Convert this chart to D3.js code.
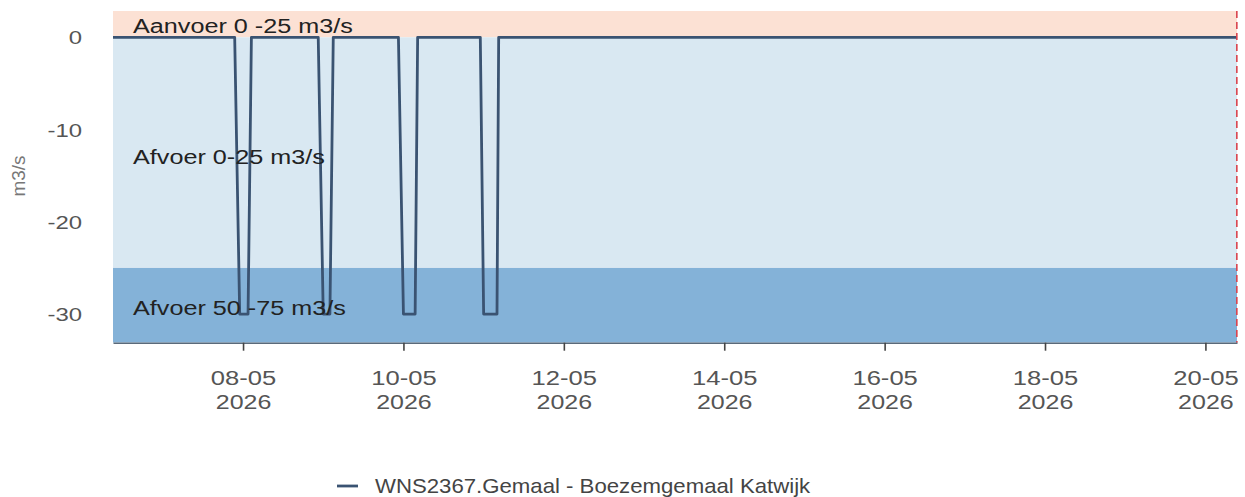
<!DOCTYPE html>
<html>
<head>
<meta charset="utf-8">
<script src="https://cdn.jsdelivr.net/npm/d3@7/dist/d3.min.js"></script>
<style>
  html, body { margin: 0; padding: 0; background: #ffffff; }
  svg { display: block; font-family: "Liberation Sans", Arial, sans-serif; }
</style>
</head>
<body>
<svg id="chart" width="1245" height="497"></svg>
<script>
// ---- data ----
const seriesName = "WNS2367.Gemaal - Boezemgemaal Katwijk";
const times = [
  "2026-05-06T09:05",
  "2026-05-07T21:30", "2026-05-07T23:00", "2026-05-08T01:30", "2026-05-08T02:30",
  "2026-05-08T22:30", "2026-05-09T00:00", "2026-05-09T02:00", "2026-05-09T03:00",
  "2026-05-09T22:30", "2026-05-10T00:00", "2026-05-10T03:30", "2026-05-10T04:15",
  "2026-05-10T23:00", "2026-05-11T00:00", "2026-05-11T04:00", "2026-05-11T04:30",
  "2026-05-20T09:20"
];
const values = [
  0,
  0, -30, -30, 0,
  0, -30, -30, 0,
  0, -30, -30, 0,
  0, -30, -30, 0,
  0
];
const bandNames = ["Aanvoer 0 -25 m3/s", "Afvoer 0-25 m3/s", "Afvoer 50 -75 m3/s"];
const bandFrom = [0, -25, -40];
const bandTo = [25, 0, -25];
const yTicks = [0, -10, -20, -30];
const xTickDates = ["2026-05-08", "2026-05-10", "2026-05-12", "2026-05-14", "2026-05-16", "2026-05-18", "2026-05-20"];
const xDomain = ["2026-05-06T09:05", "2026-05-20T09:27"];
const yDomain = [-33.1, 2.85];
const nowTime = "2026-05-20T09:24";
const yLabel = "m3/s";

// ---- layout ----
const parseT = d3.timeParse("%Y-%m-%dT%H:%M");
const parseD = d3.timeParse("%Y-%m-%d");
const mLeft = 113, mRight = 1237, mTop = 11, mBottom = 342.7;
const labelBaselines = [33, 163.5, 315];

const svg = d3.select("#chart");
const x = d3.scaleTime().domain(xDomain.map(parseT)).range([mLeft, mRight]);
const y = d3.scaleLinear().domain(yDomain).range([mBottom, mTop]);

// helper: text with horizontal stretch, placed at (px,py)
function stretchedText(parent, px, py, str, size, sx, anchor, fill) {
  const g = parent.append("g").attr("transform", `translate(${px},${py}) scale(${sx},1)`);
  return g.append("text").attr("x", 0).attr("y", 0)
    .attr("font-size", size).attr("text-anchor", anchor || "start")
    .attr("fill", fill).text(str);
}

svg.append("defs").append("clipPath").attr("id", "plotclip")
  .append("rect").attr("x", mLeft).attr("y", mTop).attr("width", mRight - mLeft).attr("height", mBottom - mTop);

const bandColors = ["#fce1d4", "#d9e8f2", "#84b2d8"];
const plot = svg.append("g").attr("clip-path", "url(#plotclip)");
plot.selectAll("rect.band").data(bandNames).join("rect")
  .attr("class", "band")
  .attr("x", mLeft).attr("width", mRight - mLeft)
  .attr("y", (d, i) => y(Math.min(bandTo[i], yDomain[1])))
  .attr("height", (d, i) => y(Math.max(bandFrom[i], yDomain[0])) - y(Math.min(bandTo[i], yDomain[1])))
  .attr("fill", (d, i) => bandColors[i]);

// series line
const pts = times.map((t, i) => ({ t: parseT(t), v: values[i] }));
plot.append("path").datum(pts)
  .attr("fill", "none")
  .attr("stroke", "#3a5372")
  .attr("stroke-width", 2.8)
  .attr("stroke-linejoin", "round")
  .attr("d", d3.line().x(d => x(d.t)).y(d => y(d.v)));

// band labels
bandNames.forEach((name, i) => {
  stretchedText(svg, mLeft + 20, labelBaselines[i], name, 21, 1.2, "start", "#222");
});

// now line
svg.append("line")
  .attr("x1", x(parseT(nowTime))).attr("x2", x(parseT(nowTime)))
  .attr("y1", mTop).attr("y2", mBottom)
  .attr("stroke", "#d9434e").attr("stroke-width", 1.6)
  .attr("stroke-dasharray", "7,4");

// x axis
const xAxis = d3.axisBottom(x)
  .tickValues(xTickDates.map(parseD))
  .tickSize(8).tickSizeOuter(0)
  .tickFormat("");
const gx = svg.append("g").attr("transform", `translate(0,${mBottom})`).call(xAxis);
gx.select(".domain").attr("stroke", "#5a6a7a").attr("stroke-width", 1.5);
gx.selectAll(".tick line").attr("stroke", "#444").attr("stroke-width", 1.6);
const fmtA = d3.timeFormat("%d-%m"), fmtB = d3.timeFormat("%Y");
gx.selectAll(".tick").each(function(d) {
  const g = d3.select(this);
  stretchedText(g, 0, 42.5, fmtA(d), 20, 1.28, "middle", "#555");
  stretchedText(g, 0, 66.5, fmtB(d), 20, 1.25, "middle", "#555");
});

// y axis (labels only)
const yAxis = d3.axisLeft(y).tickValues(yTicks).tickSize(0).tickFormat("");
const gy = svg.append("g").attr("transform", `translate(${mLeft - 31},0)`).call(yAxis);
gy.select(".domain").remove();
gy.selectAll(".tick").each(function(d) {
  stretchedText(d3.select(this), 0, 6.5, String(d), 18, 1.33, "end", "#555");
});

svg.append("text")
  .attr("transform", `translate(25,176) rotate(-90)`)
  .attr("text-anchor", "middle")
  .attr("fill", "#777").attr("font-size", 19)
  .text(yLabel);

// legend
const lg = svg.append("g").attr("transform", "translate(337,486)");
lg.append("line").attr("x1", 0).attr("x2", 21).attr("y1", 0).attr("y2", 0)
  .attr("stroke", "#3a5372").attr("stroke-width", 2.8);
stretchedText(lg, 38, 7, seriesName, 20, 1.11, "start", "#444");
</script>
</body>
</html>
